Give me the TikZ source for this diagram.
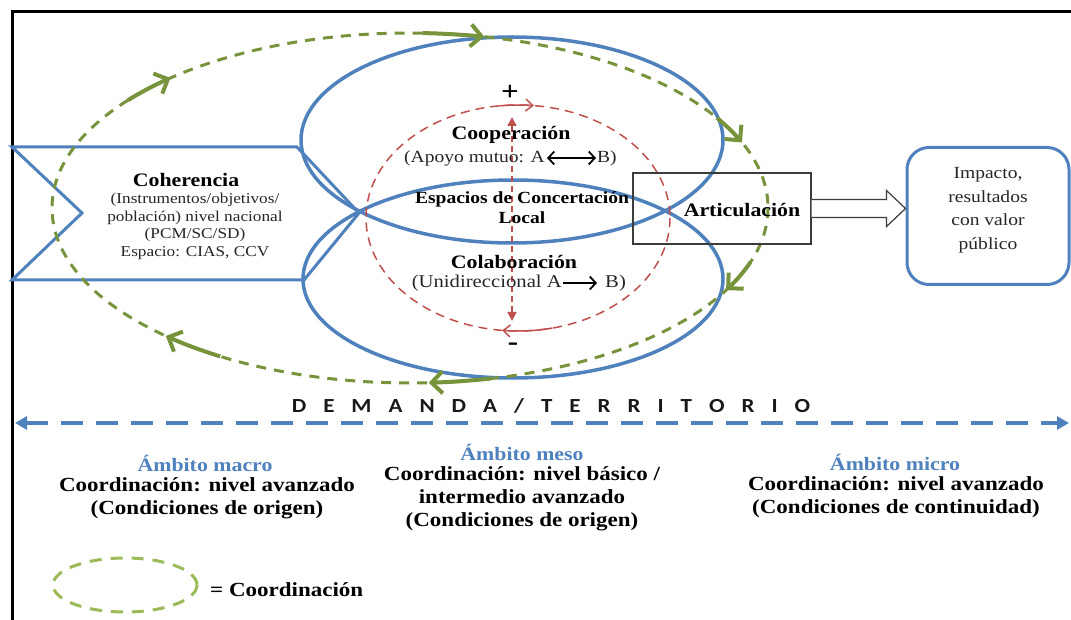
\documentclass[tikz,border=0pt]{standalone}
\usepackage{fontspec}
\setmainfont{Liberation Serif}[FakeStretch=1.15]
\newfontfamily\demfont{Carlito}[FakeStretch=1.15]
\usetikzlibrary{arrows.meta,calc}
\definecolor{ellblue}{RGB}{79,129,189}
\definecolor{coordgreen}{RGB}{119,147,60}
\definecolor{legendgreen}{RGB}{155,187,89}
\definecolor{levelred}{RGB}{192,80,77}
\definecolor{boxgray}{RGB}{60,60,60}
\newcommand\lsp{\hspace{17pt}}

\begin{document}
\begin{tikzpicture}[x=1pt,y=-1pt,
  txt/.style={inner sep=0pt, align=center},
  fsz/.style 2 args={font=\fontsize{#1}{#2}\selectfont},
  bsz/.style 2 args={font=\fontsize{#1}{#2}\selectfont\bfseries},
  frameline/.style={line width=3pt, black},
  chevronbox/.style={draw=ellblue, line width=3pt, fill=white, line join=miter},
  levelell/.style={draw=ellblue, line width=3.5pt},
  coordell/.style={draw=coordgreen, line width=3pt, dash pattern=on 10pt off 8pt},
  coordarr/.style={draw=coordgreen, line width=4pt, -{Straight Barb[length=11pt,width=22pt]}},
  redell/.style={draw=levelred, line width=1.5pt, dash pattern=on 9pt off 6pt},
  redarr/.style={draw=levelred, line width=1.5pt, -{Straight Barb[length=7pt,width=12pt]}},
  redaxis/.style={draw=levelred, line width=1.5pt, dash pattern=on 6pt off 4pt,
    {Triangle[length=9pt,width=9pt]}-{Triangle[length=9pt,width=9pt]}},
  textarr/.style={draw=black, line width=1.8pt},
  artbox/.style={draw=boxgray, line width=1.2pt, minimum width=178pt, minimum height=71pt, inner sep=0pt},
  impbox/.style={draw=ellblue, line width=3pt, rounded corners=22pt, fill=white,
    minimum width=162pt, minimum height=137pt, inner sep=0pt},
  blockarrow/.style={draw=boxgray, line width=1.2pt, fill=white, line join=miter},
  demline/.style={draw=ellblue, line width=4pt, dash pattern=on 22pt off 13pt,
    {Triangle[length=12pt,width=13pt]}-{Triangle[length=12pt,width=13pt]}},
  ambito/.style={txt, bsz={19}{22}, text=ellblue},
  levelnote/.style={txt, bsz={20}{23}},
  legendell/.style={draw=legendgreen, line width=3pt, dash pattern=on 12pt off 9pt}
]
\useasboundingbox (0,0) rectangle (1071,620);

% outer frame (top and left edges)
\draw[frameline] (12,620) -- (12,12) -- (1071,12);

% national coherence chevron
\draw[chevronbox] (12,147) -- (297,147) -- (359,213) -- (304,280) -- (12,280) -- (82,213) -- cycle;

% the two levels: cooperation (upper) and collaboration (lower)
\draw[levelell] (512,140) ellipse [x radius=211, y radius=103];
\draw[levelell] (513,279) ellipse [x radius=210, y radius=99];

% coordination cycle
\draw[coordell] (410,208) ellipse [x radius=358, y radius=175];
\draw[coordarr] plot[domain=142:132, samples=12] ({410+358*cos(\x)},{208-175*sin(\x)});
\draw[coordarr] plot[domain=88:78, samples=12] ({410+358*cos(\x)},{208-175*sin(\x)});
\draw[coordarr] plot[domain=31:22, samples=12] ({410+358*cos(\x)},{208-175*sin(\x)});
\draw[coordarr] plot[domain=-18:-28, samples=12] ({410+358*cos(\x)},{208-175*sin(\x)});
\draw[coordarr] plot[domain=-77:-87, samples=12] ({410+358*cos(\x)},{208-175*sin(\x)});
\draw[coordarr] plot[domain=-122:-133, samples=12] ({410+358*cos(\x)},{208-175*sin(\x)});

% local concertation spaces
\draw[redell] (518,218) ellipse [x radius=152, y radius=113];
\draw[redarr] plot[domain=97:84, samples=12] ({518+152*cos(\x)},{218-113*sin(\x)});
\draw[redarr] plot[domain=-77:-96, samples=12] ({518+152*cos(\x)},{218-113*sin(\x)});

\node[txt, bsz={27}{27}] (plus) at (510,93) {+};
\node[txt, bsz={27}{27}] (minus) at (513,347) {-};
\coordinate (vtop) at (512,117);
\coordinate (vbot) at (512,321);
\draw[redaxis] (vtop) -- (vbot);

% articulation and impact
\node[artbox] (art) at (722,208.5) {};
\node[impbox] (imp) at (988,216) {};
\coordinate (tip) at (imp.west |- art.east);
\draw[blockarrow] ($(art.east)+(0,-9)$) -- ($(tip)+(-19,-9)$) -- ($(tip)+(-19,-18)$) -- (tip)
  -- ($(tip)+(-19,18)$) -- ($(tip)+(-19,9)$) -- ($(art.east)+(0,9)$);

% texts
\node[txt, bsz={19}{22}] (coh) at (186,180) {Coherencia};
\node[txt, fsz={15}{17.6}, text=black!85] (cohsub) at (195,226.5)
  {(Instrumentos/objetivos/\\población) nivel nacional\\(PCM/SC/SD)\\Espacio: CIAS, CCV};

\node[txt, bsz={19}{22}] (coop) at (511,135) {Cooperación};
\node[txt, fsz={17}{20}, text=black!85, anchor=east] (coopA) at (545,158) {(Apoyo mutuo: A};
\node[txt, fsz={17}{20}, text=black!85, anchor=west] (coopB) at (597,158) {B)};
\draw[textarr, {Straight Barb[length=6pt,width=13pt]}-{Straight Barb[length=6pt,width=13pt]}]
  ([xshift=2pt]coopA.east) -- ([xshift=-1pt]coopB.west);

\node[txt, bsz={17}{20}] (esp) at (522,208) {Espacios de Concertación\\Local};

\node[txt, bsz={19}{22}] (colab) at (514,262) {Colaboración};
\node[txt, fsz={18}{20}, text=black!85, anchor=east] (colA) at (562,283) {(Unidireccional A};
\node[txt, fsz={18}{20}, text=black!85, anchor=west] (colB) at (605,283) {B)};
\draw[textarr, -{Straight Barb[length=6pt,width=13pt]}]
  ([xshift=1pt]colA.east) -- ([xshift=-8pt]colB.west);

\node[txt, bsz={19}{22}] (artl) at (742,210) {Articulación};
\node[txt, fsz={17}{23.5}, text=black!85] (impt) at (988,210) {Impacto,\\resultados\\con valor\\público};

% demand / territory axis
\node[txt, font=\demfont\bfseries\fontsize{20}{23}\selectfont, text=black!90] (dem) at (551,406)
  {D\lsp E\lsp M\lsp A\lsp N\lsp D\lsp A\lsp /\lsp T\lsp E\lsp R\lsp R\lsp I\lsp T\lsp O\lsp R\lsp I\lsp O};
\coordinate (demL) at (15,423);
\coordinate (demR) at (1069,423);
\draw[demline] (demL) -- (demR);

% scopes
\node[ambito] (macro) at (205,463) {Ámbito macro};
\node[levelnote] (macrot) at (207,498) {Coordinación: nivel avanzado\\(Condiciones de origen)};
\node[ambito] (meso) at (522,452) {Ámbito meso};
\node[levelnote] (mesot) at (522,499) {Coordinación: nivel básico /\\intermedio avanzado\\(Condiciones de origen)};
\node[ambito] (micro) at (895,462) {Ámbito micro};
\node[levelnote] (microt) at (896,497) {Coordinación: nivel avanzado\\(Condiciones de continuidad)};

% legend
\draw[legendell] (125,585) ellipse [x radius=72, y radius=27];
\node[txt, bsz={20}{22}, anchor=west] (leg) at (210,590) {= Coordinación};
\end{tikzpicture}
\end{document}
